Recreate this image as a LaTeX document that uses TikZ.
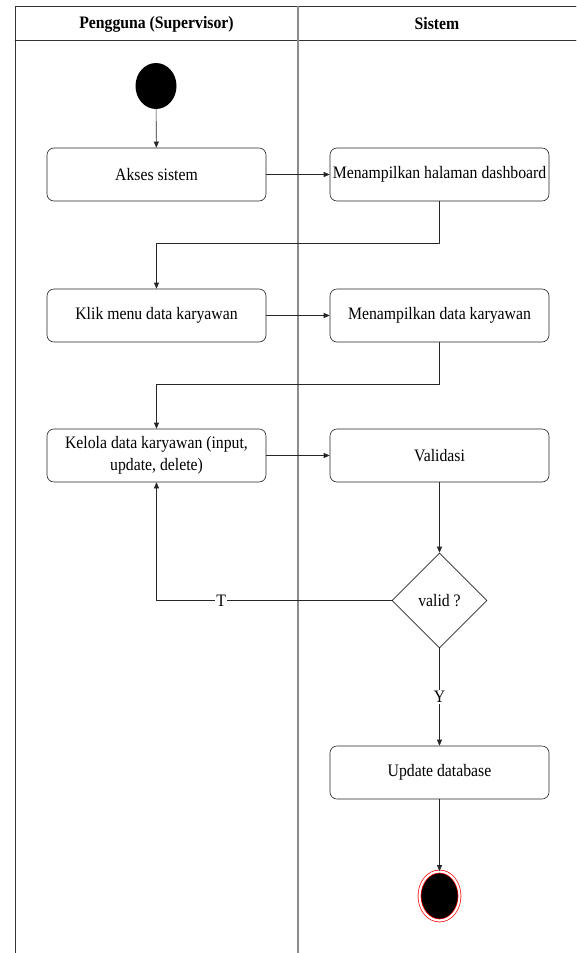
\documentclass[tikz,border=0pt]{standalone}
\usepackage{fontspec}
\setmainfont{Liberation Serif}[FakeStretch=0.9]
\usetikzlibrary{shapes.geometric,arrows.meta}
\tikzset{
  act/.style={draw=black!85, rounded corners=7pt, line width=0.6pt, minimum width=219pt, minimum height=53pt, inner sep=2pt, align=center, font=\fontsize{17.5}{22}\selectfont},
  flow/.style={draw=black!85, line width=0.6pt, -{Triangle[length=6pt,width=5pt]}},
  lbl/.style={fill=white, inner sep=1.5pt, font=\fontsize{17.5}{22}\selectfont},
  lanehead/.style={font=\bfseries\fontsize{17.5}{22}\selectfont}
}
\begin{document}
\begin{tikzpicture}[yscale=-1, x=1pt, y=1pt, line join=round, line cap=round]
\useasboundingbox (0,0) rectangle (576,953);
% Swimlanes
\draw[color=black!80, line width=0.8pt] (576,6.5) -- (15,6.5) -- (15,953);
\draw[color=black!80, line width=0.8pt] (15,40.5) -- (576,40.5);
\draw[color=black!45, line width=1.6pt] (298,6.5) -- (298,953);
\node[lanehead] (laneuser) at (156.5,24) {Pengguna (Supervisor)};
\node[lanehead] (lanesys) at (437,24) {Sistem};
% Start and actions
\node[ellipse, fill=black, minimum width=41pt, minimum height=46pt, inner sep=0pt] (start) at (156,86) {};
\node[act] (akses) at (156.5,174.5) {Akses sistem};
\node[act] (dash) at (439.5,174.5) {Menampilkan halaman dashboard};
\node[act] (klik) at (156.5,315.5) {Klik menu data karyawan};
\node[act] (tampil) at (439.5,315.5) {Menampilkan data karyawan};
\node[act] (kelola) at (156.5,455.5) {Kelola data karyawan (input,\\update, delete)};
\node[act] (validasi) at (439.5,455.5) {Validasi};
\node[diamond, draw=black!85, line width=0.6pt, minimum width=95pt, minimum height=95pt, inner sep=0pt, font=\fontsize{17.5}{22}\selectfont] (valid) at (439.5,600.5) {valid ?};
\node[act] (update) at (439.5,772.5) {Update database};
\node[ellipse, draw=red, fill=black, line width=0.7pt, double=white, double distance=2.2pt, minimum width=40pt, minimum height=49pt, inner sep=0pt] (finish) at (439.5,896) {};
% Connectors
\draw[flow] (start) -- (akses);
\draw[flow] (akses) -- (dash);
\draw[flow] (dash.south) -- ++(0,42) -| (klik.north);
\draw[flow] (klik) -- (tampil);
\draw[flow] (tampil.south) -- ++(0,42) -| (kelola.north);
\draw[flow] (kelola) -- (validasi);
\draw[flow] (validasi) -- (valid);
\draw[flow] (valid.west) -- node[lbl, pos=0.725] {T} (kelola.south |- valid.west) -- (kelola.south);
\draw[flow] (valid.south) -- node[lbl] {Y} (update.north);
\draw[flow] (update) -- (finish);
\end{tikzpicture}
\end{document}
